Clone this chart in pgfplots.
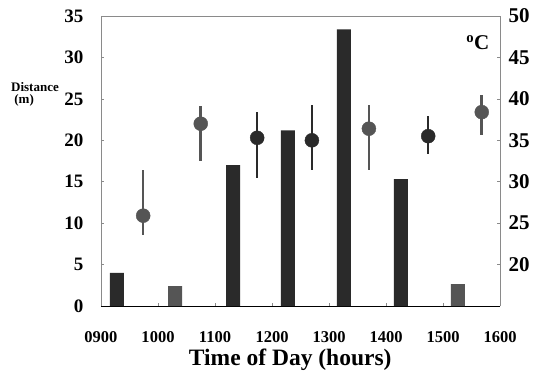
\documentclass[border=0pt]{standalone}
\usepackage{pgfplots}
\pgfplotsset{compat=1.18}
\usepackage{fontspec}
\setmainfont{Liberation Serif}
\definecolor{dk}{HTML}{2A2A2A}
\definecolor{md}{HTML}{555555}
\definecolor{ax}{HTML}{8A8A8A}
\begin{document}
\begin{tikzpicture}
\begin{axis}[
  scale only axis, width=399pt, height=290pt,
  at={(0,0)}, anchor=south west,
  xmin=9, xmax=16, ymin=0, ymax=35,
  axis y line*=left, axis x line*=bottom,
  ytick={0,5,...,35},
  xtick={9,10,...,16},
  xticklabels={0900,1000,1100,1200,1300,1400,1500,1600},
  /pgf/number format/assume math mode=true,
  yticklabel style={font=\fontsize{19}{19}\selectfont\bfseries, xshift=-14pt},
  xticklabel style={font=\fontsize{16.5}{16.5}\selectfont\bfseries, yshift=-22pt},
  tick style={ax, line width=0.6pt},
  major tick length=3pt,
  x axis line style={black, line width=0.9pt, -},
  y axis line style={ax, line width=0.9pt, -},
  clip=false,
]
\addplot[ybar, bar width=14pt, fill=dk, draw=none] coordinates {
  (9.28,4.0) (11.32,17.0) (12.28,21.2) (13.26,33.4) (14.26,15.3)};
\addplot[ybar, bar width=14pt, fill=md, draw=none] coordinates {
  (10.30,2.4) (15.26,2.65)};
\draw[ax, line width=0.9pt] (axis cs:9,35) -- (axis cs:16,35);
\node[font=\fontsize{23.5}{24}\selectfont\bfseries] at (axis cs:12.32,-6.5) {Time of Day (hours)};
\node[font=\fontsize{13}{13}\selectfont\bfseries, align=left, anchor=west, inner sep=0pt] at (axis cs:7.42,25.5) {Distance\\[-1pt]\ (m)};
\end{axis}
\begin{axis}[
  scale only axis, width=399pt, height=290pt,
  at={(0,0)}, anchor=south west,
  xmin=9, xmax=16, ymin=15, ymax=50,
  axis y line*=right, axis x line=none,
  ytick={20,25,...,50},
  /pgf/number format/assume math mode=true,
  yticklabel style={font=\fontsize{21}{21}\selectfont\bfseries, xshift=5pt},
  tick style={ax, line width=0.6pt},
  major tick length=3pt,
  y axis line style={ax, line width=0.9pt, -},
  clip=false,
]
\addplot[only marks, mark=*, mark size=7pt, color=md,
  error bars/.cd, y dir=both, y explicit,
  error bar style={line width=2.6pt, color=md}, error mark=none]
  coordinates {
  (9.74,25.9) += (0,5.5) -= (0,2.3)
  (10.75,37.0) += (0,2.1) -= (0,4.5)
  (13.70,36.4) += (0,2.8) -= (0,5.0)
  (15.68,38.4) += (0,2.1) -= (0,2.8)};
\addplot[only marks, mark=*, mark size=7pt, color=dk,
  error bars/.cd, y dir=both, y explicit,
  error bar style={line width=2.6pt, color=dk}, error mark=none]
  coordinates {
  (11.74,35.3) += (0,3.1) -= (0,4.9)
  (12.70,35.0) += (0,4.2) -= (0,3.6)
  (14.74,35.5) += (0,2.4) -= (0,2.2)};
\node[font=\fontsize{21}{21}\selectfont\bfseries] at (axis cs:15.61,46.8) {$^{\mathbf{o}}$C};
\end{axis}
\pgfresetboundingbox
\path[use as bounding box] (-101pt,-74pt) rectangle (433pt,306pt);
\end{tikzpicture}
\end{document}
